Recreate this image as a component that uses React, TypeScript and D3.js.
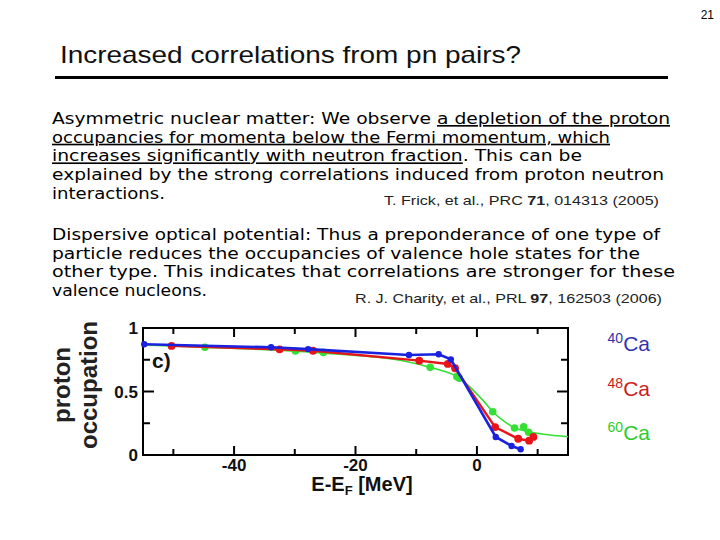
import React from "react";
import * as d3 from "d3";

const xTicks = [-50, -40, -30, -20, -10, 0, 10];
const xTickLabels = [-40, -20, 0];
const yTicks = [0, 0.25, 0.5, 0.75, 1];
const yTickLabels = [0, 0.5, 1];

const ca40X = [-54.8, -33.9, -27.8, -11.2, -6.3, -4.3, 3.1, 5.7, 7.2];
const ca40Y = [0.872, 0.848, 0.834, 0.787, 0.793, 0.753, 0.142, 0.071, 0.045];

const ca48X = [-50.3, -32.5, -27.0, -9.5, -4.8, -3.6, 3.0, 6.8, 8.6, 9.3];
const ca48Y = [0.859, 0.832, 0.821, 0.743, 0.717, 0.683, 0.22, 0.128, 0.113, 0.142];

const ca60X = [-44.8, -29.9, -25.3, -7.7, -3.3, -2.9, 2.6, 6.2, 7.7, 8.5];
const ca60Y = [0.848, 0.819, 0.808, 0.69, 0.617, 0.605, 0.341, 0.213, 0.223, 0.179];

const ca60CurveX = [-55, -45, -30, -22.5, -12, -7.7, -3.3, -1.5, 1, 2.6, 4.5, 6.2, 8.4, 11, 15];
const ca60CurveY = [0.866, 0.848, 0.818, 0.793, 0.74, 0.69, 0.617, 0.551, 0.43, 0.341, 0.265, 0.215, 0.184, 0.163, 0.144];

const para1 = [
  [{ t: "Asymmetric nuclear matter: We observe ", u: false }, { t: "a depletion of the proton", u: true }],
  [{ t: "occupancies for momenta below the Fermi momentum, which", u: true }],
  [{ t: "increases significantly with neutron fraction", u: true }, { t: ". This can be", u: false }],
  [{ t: "explained by the strong correlations induced from proton neutron", u: false }],
  [{ t: "interactions.", u: false }],
];
const para1Widths = [618, 558, 530, 612, 113];
const para2 = [
  "Dispersive optical potential: Thus a preponderance of one type of",
  "particle reduces the occupancies of valence hole states for the",
  "other type. This indicates that correlations are stronger for these",
  "valence nucleons.",
];
const para2Widths = [608, 588, 623, 155];

const series = [
  { name: "40", xs: ca40X, ys: ca40Y, color: "#1a22e0", r: 3.2, w: 2.6 },
  { name: "48", xs: ca48X, ys: ca48Y, color: "#e8141a", r: 3.9, w: 2.4 },
];

export default function App() {
  const x = d3.scaleLinear().domain([-55, 15]).range([143, 568]);
  const y = d3.scaleLinear().domain([0, 1]).range([455, 328]);
  const lin = d3.line<[number, number]>().x((d) => x(d[0])).y((d) => y(d[1])).curve(d3.curveLinear);
  const smooth = d3.line<[number, number]>().x((d) => x(d[0])).y((d) => y(d[1])).curve(d3.curveMonotoneX);
  const green = "#33e033";
  const bodyFont = "'DejaVu Sans', sans-serif";
  const arial = "'Liberation Sans', Arial, sans-serif";
  const [x0, x1] = x.range();
  const [y0, y1] = y.range();

  return (
    <svg width={720} height={540} style={{ position: "absolute", left: 0, top: 0, background: "#fff" }}>
      <text x={714} y={19} fontFamily={arial} fontSize={12} textAnchor="end">21</text>
      <text x={60} y={63} fontFamily={arial} fontSize={24} textLength={461} lengthAdjust="spacingAndGlyphs" fill="#111">
        Increased correlations from pn pairs?
      </text>
      <line x1={55} x2={668} y1={77.5} y2={77.5} stroke="#000" strokeWidth={3} />

      {para1.map((segs, i) => (
        <text key={"p1" + i} x={52} y={124 + i * 18.7} fontFamily={bodyFont} fontSize={16.5}
          textLength={para1Widths[i]} lengthAdjust="spacingAndGlyphs" fill="#000">
          {segs.map((s, j) => (
            <tspan key={j} style={s.u ? { textDecoration: "underline" } : undefined}>{s.t}</tspan>
          ))}
        </text>
      ))}
      <text x={384} y={205} fontFamily={arial} fontSize={13.5} textLength={275} lengthAdjust="spacingAndGlyphs" fill="#222">
        T. Frick, et al., PRC <tspan fontWeight="bold">71</tspan>, 014313 (2005)
      </text>

      {para2.map((s, i) => (
        <text key={"p2" + i} x={52} y={240 + i * 18.7} fontFamily={bodyFont} fontSize={16.5}
          textLength={para2Widths[i]} lengthAdjust="spacingAndGlyphs" fill="#000">{s}</text>
      ))}
      <text x={355} y={303} fontFamily={arial} fontSize={13.5} textLength={307} lengthAdjust="spacingAndGlyphs" fill="#222">
        R. J. Charity, et al., PRL <tspan fontWeight="bold">97</tspan>, 162503 (2006)
      </text>

      {/* axes frame */}
      <rect x={x0} y={y1} width={x1 - x0} height={y0 - y1} fill="none" stroke="#000" strokeWidth={2} />
      {xTicks.map((t) => {
        const len = xTickLabels.includes(t) ? 9 : 6;
        return (
          <g key={"xt" + t}>
            <line x1={x(t)} x2={x(t)} y1={y0} y2={y0 - len} stroke="#000" strokeWidth={2} />
            <line x1={x(t)} x2={x(t)} y1={y1} y2={y1 + len} stroke="#000" strokeWidth={2} />
          </g>
        );
      })}
      {xTickLabels.map((t) => (
        <text key={"xl" + t} x={x(t)} y={471} textAnchor="middle" fontFamily={arial} fontWeight="bold" fontSize={17} fill="#111">{t}</text>
      ))}
      {yTicks.map((t) => {
        const len = yTickLabels.includes(t) ? 11 : 7;
        return (
          <g key={"yt" + t}>
            <line x1={x0} x2={x0 + len} y1={y(t)} y2={y(t)} stroke="#000" strokeWidth={2} />
            <line x1={x1} x2={x1 - len} y1={y(t)} y2={y(t)} stroke="#000" strokeWidth={2} />
          </g>
        );
      })}
      {yTickLabels.map((t) => (
        <text key={"yl" + t} x={138} y={y(t) + 6} textAnchor="end" fontFamily={arial} fontWeight="bold" fontSize={17} fill="#111">{t === 0 ? "0" : t === 1 ? "1" : "0.5"}</text>
      ))}
      <text x={152} y={368} fontFamily={arial} fontWeight="bold" fontSize={21} fill="#111">c)</text>

      <text transform="translate(70,385) rotate(-90)" textAnchor="middle" fontFamily={arial} fontWeight="bold" fontSize={24} fill="#222">proton</text>
      <text transform="translate(97,385) rotate(-90)" textAnchor="middle" fontFamily={arial} fontWeight="bold" fontSize={24} fill="#222">occupation</text>
      <text x={362} y={491} textAnchor="middle" fontFamily={arial} fontWeight="bold" fontSize={20} fill="#111">
        E-E<tspan fontSize={13} dy={4}>F</tspan><tspan dy={-4}> [MeV]</tspan>
      </text>

      {/* data */}
      <path d={smooth(ca60CurveX.map((v, i) => [v, ca60CurveY[i]]) as any) || ""} fill="none" stroke={green} strokeWidth={1.6} />
      {ca60X.map((v, i) => (
        <circle key={"g" + i} cx={x(v)} cy={y(ca60Y[i])} r={3.8} fill={green} />
      ))}
      {series.slice().reverse().map((s) => (
        <g key={s.name}>
          <path d={lin(s.xs.map((v, i) => [v, s.ys[i]]) as any) || ""} fill="none" stroke={s.color} strokeWidth={s.w} />
          {s.xs.map((v, i) => (
            <circle key={i} cx={x(v)} cy={y(s.ys[i])} r={s.r} fill={s.color} />
          ))}
        </g>
      ))}

      {/* legend */}
      {[
        { n: "40", c: "#3434a8", yb: 351 },
        { n: "48", c: "#cc2020", yb: 396 },
        { n: "60", c: "#2ecc2e", yb: 440 },
      ].map((l) => (
        <text key={l.n} x={650} y={l.yb} textAnchor="end" fontFamily={arial} fontSize={21} fill={l.c}>
          <tspan fontSize={14} dy={-8}>{l.n}</tspan><tspan dy={8}>Ca</tspan>
        </text>
      ))}
    </svg>
  );
}
